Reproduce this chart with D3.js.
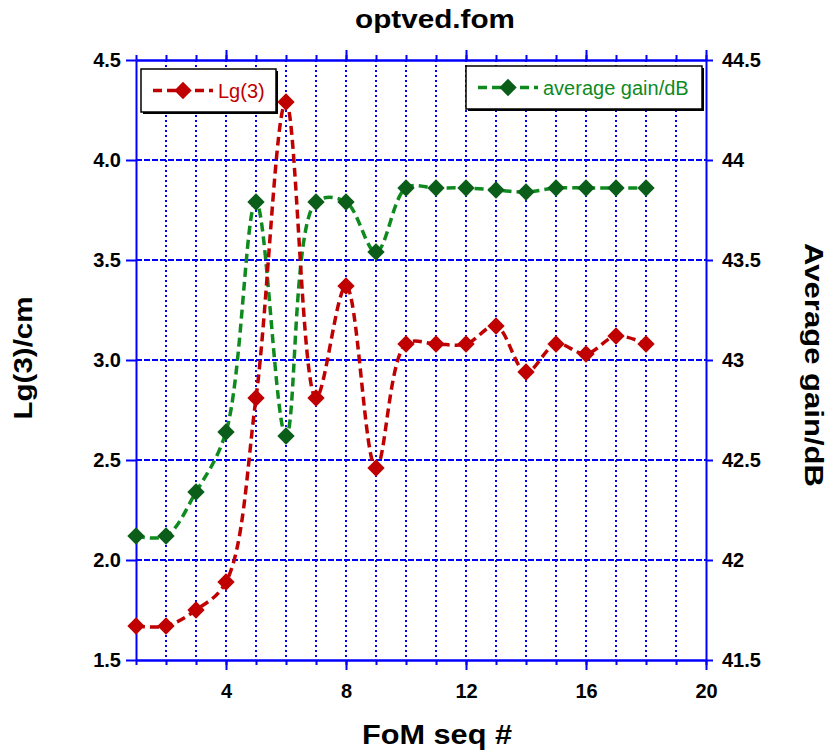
<!DOCTYPE html>
<html>
<head>
<meta charset="utf-8">
<script src="https://cdn.jsdelivr.net/npm/d3@7"></script>
<style>
  body { margin: 0; background: #fff; }
  svg { display: block; font-family: Arial, "Liberation Sans", sans-serif; }
</style>
</head>
<body>
<svg id="chart"></svg>
<script>
// data
const fomSeq = [1, 2, 3, 4, 5, 6, 7, 8, 9, 10, 11, 12, 13, 14, 15, 16, 17, 18];
const lg3 = [1.67, 1.67, 1.75, 1.89, 2.81, 4.29, 2.81, 3.37, 2.46, 3.08, 3.08, 3.08, 3.17, 2.94, 3.08, 3.03, 3.12, 3.08];
const avgGain = [42.12, 42.12, 42.34, 42.64, 43.79, 42.62, 43.79, 43.79, 43.54, 43.86, 43.86, 43.86, 43.85, 43.84, 43.86, 43.86, 43.86, 43.86];

const xMajor = [4, 8, 12, 16, 20];
const leftTicks = [1.5, 2.0, 2.5, 3.0, 3.5, 4.0, 4.5];
const rightTicks = [41.5, 42, 42.5, 43, 43.5, 44, 44.5];

const W = 830, H = 752;
const plotL = 136, plotR = 706, plotT = 60, plotB = 660;

const svg = d3.select("#chart")
    .attr("width", W)
    .attr("height", H);

svg.append("rect").attr("width", W).attr("height", H).attr("fill", "#fff");

const x = d3.scaleLinear().domain([1, 20]).range([plotL, plotR]);
const yL = d3.scaleLinear().domain([1.5, 4.5]).range([plotB, plotT]);
const yR = d3.scaleLinear().domain([41.5, 44.5]).range([plotB, plotT]);

const blue = "#0000ff";
const red = "#c00000";
const greenLine = "#0f8a1f";
const greenMark = "#0b5e1a";

// grid
const grid = svg.append("g");
grid.selectAll(".vg")
    .data(d3.range(2, 20))
    .enter()
    .append("line")
    .attr("x1", d => x(d)).attr("x2", d => x(d))
    .attr("y1", plotT).attr("y2", plotB)
    .attr("stroke", blue)
    .attr("stroke-width", 2)
    .attr("stroke-dasharray", "2,3");

grid.selectAll(".hg")
    .data(leftTicks.slice(1, -1))
    .enter()
    .append("line")
    .attr("x1", plotL).attr("x2", plotR)
    .attr("y1", d => yL(d)).attr("y2", d => yL(d))
    .attr("stroke", blue)
    .attr("stroke-width", 2)
    .attr("stroke-dasharray", "6,2");

// axes
function styleAxis(g) {
    g.selectAll("path").attr("stroke", blue).attr("stroke-width", 2);
    g.selectAll("line").attr("stroke", blue).attr("stroke-width", 2);
    g.selectAll("text")
        .attr("fill", "#000")
        .style("font-size", "20px")
        .style("font-weight", "bold");
}

svg.append("g")
    .attr("transform", `translate(0,${plotB})`)
    .call(d3.axisBottom(x).tickValues(d3.range(1, 21)).tickSize(5).tickFormat("").tickSizeOuter(0))
    .call(styleAxis);
svg.append("g")
    .attr("transform", `translate(0,${plotB})`)
    .call(d3.axisBottom(x).tickValues(xMajor).tickSize(10).tickPadding(14).tickSizeOuter(0))
    .call(styleAxis);

svg.append("g")
    .attr("transform", `translate(0,${plotT})`)
    .call(d3.axisTop(x).tickValues(d3.range(1, 21)).tickSize(5).tickFormat("").tickSizeOuter(0))
    .call(styleAxis);
svg.append("g")
    .attr("transform", `translate(0,${plotT})`)
    .call(d3.axisTop(x).tickValues(xMajor).tickSize(10).tickFormat("").tickSizeOuter(0))
    .call(styleAxis);

svg.append("g")
    .attr("transform", `translate(${plotL},0)`)
    .call(d3.axisLeft(yL).tickValues(leftTicks).tickSize(10).tickPadding(5)
        .tickFormat(d3.format(".1f")).tickSizeOuter(0))
    .call(styleAxis);

svg.append("g")
    .attr("transform", `translate(${plotR},0)`)
    .call(d3.axisRight(yR).tickValues(rightTicks).tickSize(7).tickPadding(9)
        .tickFormat(d => String(d)).tickSizeOuter(0))
    .call(styleAxis);

// series
const marker = d3.symbol().type(d3.symbolSquare).size(150);

function drawSeries(values, yScale, lineColor, markColor) {
    const pts = fomSeq.map((f, i) => [f, values[i]]);
    const line = d3.line()
        .x(d => x(d[0]))
        .y(d => yScale(d[1]))
        .curve(d3.curveCatmullRom.alpha(0.5));
    svg.append("path")
        .datum(pts)
        .attr("d", line)
        .attr("fill", "none")
        .attr("stroke", lineColor)
        .attr("stroke-width", 3.5)
        .attr("stroke-dasharray", "9,5");
    svg.append("g")
        .selectAll("path")
        .data(pts)
        .enter()
        .append("path")
        .attr("d", marker)
        .attr("transform", d => `translate(${x(d[0])},${yScale(d[1])}) rotate(45)`)
        .attr("fill", markColor);
}

drawSeries(avgGain, yR, greenLine, greenMark);
drawSeries(lg3, yL, red, red);

// legends
function legend(x0, y0, w, h, lineColor, markColor, label) {
    const g = svg.append("g");
    g.append("rect").attr("x", x0 + 2).attr("y", y0 + 2).attr("width", w).attr("height", h).attr("fill", "#000");
    g.append("rect").attr("x", x0).attr("y", y0).attr("width", w).attr("height", h)
        .attr("fill", "#fff").attr("stroke", "#000").attr("stroke-width", 1.5);
    const cy = y0 + h / 2;
    g.append("line")
        .attr("x1", x0 + 12).attr("x2", x0 + 72)
        .attr("y1", cy).attr("y2", cy)
        .attr("stroke", lineColor).attr("stroke-width", 3.5)
        .attr("stroke-dasharray", "9,5");
    g.append("path")
        .attr("d", marker)
        .attr("transform", `translate(${x0 + 42},${cy}) rotate(45)`)
        .attr("fill", markColor);
    g.append("text")
        .attr("x", x0 + 77).attr("y", cy + 7)
        .attr("fill", lineColor)
        .style("font-size", "20px")
        .text(label);
}

legend(141, 69, 135, 43, red, red, "Lg(3)");
legend(466, 66, 236, 43, greenLine, greenMark, "average gain/dB");

// titles
svg.append("text")
    .attr("x", 435).attr("y", 28)
    .attr("text-anchor", "middle")
    .attr("textLength", 160)
    .attr("lengthAdjust", "spacingAndGlyphs")
    .style("font-size", "26px").style("font-weight", "bold")
    .text("optved.fom");

svg.append("text")
    .attr("x", 437).attr("y", 744)
    .attr("text-anchor", "middle")
    .attr("textLength", 150)
    .attr("lengthAdjust", "spacingAndGlyphs")
    .style("font-size", "27px").style("font-weight", "bold")
    .text("FoM seq #");

svg.append("text")
    .attr("transform", "translate(32,358) rotate(-90)")
    .attr("text-anchor", "middle")
    .attr("textLength", 123)
    .attr("lengthAdjust", "spacingAndGlyphs")
    .style("font-size", "25px").style("font-weight", "bold")
    .text("Lg(3)/cm");

svg.append("text")
    .attr("transform", "translate(805,365) rotate(90)")
    .attr("text-anchor", "middle")
    .attr("textLength", 244)
    .attr("lengthAdjust", "spacingAndGlyphs")
    .style("font-size", "25px").style("font-weight", "bold")
    .text("Average gain/dB");
</script>
</body>
</html>
